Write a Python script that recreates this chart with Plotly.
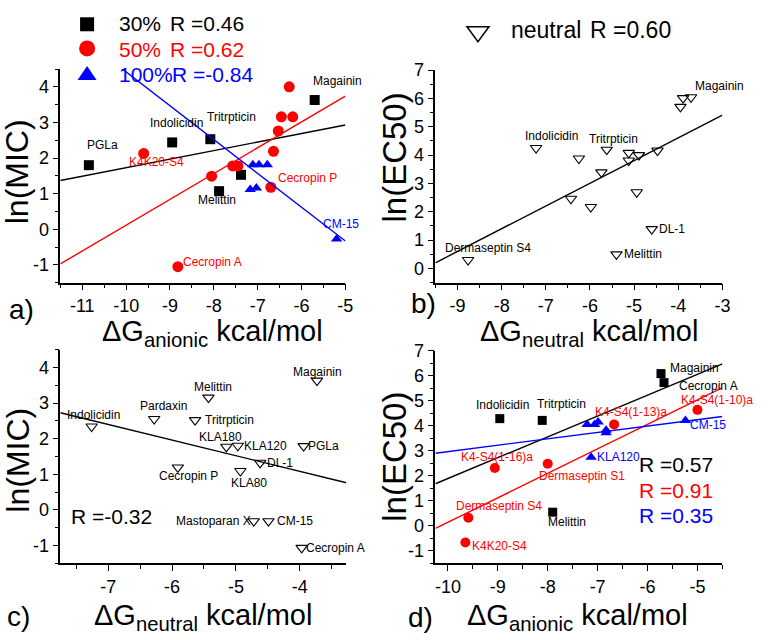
import plotly.graph_objects as go
import numpy as np

W, H = 768, 640

# ---------------- data ----------------
# Panel a: ln(MIC) vs dG anionic
a30_x = [-10.85, -8.95, -8.08, -7.88, -7.38, -5.70]
a30_y = [1.80, 2.44, 2.53, 1.07, 1.53, 3.63]
a30_lab = ["PGLa", "Indolicidin", "Tritrpticin", "Melittin", "", "Magainin"]

a50_x = [-9.60, -8.05, -8.82, -7.57, -7.45, -6.70, -6.64, -6.53, -6.46, -6.20, -6.28]
a50_y = [2.13, 1.49, -1.05, 1.78, 1.78, 1.18, 2.19, 2.76, 3.16, 3.16, 4.00]
a50_lab = ["K4K20-S4", "", "Cecropin A", "", "", "Cecropin P", "", "", "", "", ""]

a100_x = [-7.11, -6.97, -6.78, -7.17, -7.03, -5.20]
a100_y = [1.81, 1.81, 1.81, 1.12, 1.16, -0.27]
a100_lab = ["", "", "", "", "", "CM-15"]

# Panel b: ln(EC50) vs dG neutral
b_x = [-8.76, -7.22, -6.25, -6.43, -5.98, -5.74, -5.62, -5.12, -5.12, -4.89,
       -4.94, -4.47, -4.60, -5.40, -3.95, -3.89, -3.71]
b_y = [0.30, 4.25, 3.88, 2.46, 2.17, 3.39, 4.19, 4.08, 3.81, 4.00,
       2.69, 4.16, 1.39, 0.50, 5.70, 6.01, 6.04]
b_lab = ["Dermaseptin S4", "Indolicidin", "", "", "", "", "Tritrpticin", "", "", "",
         "", "", "DL-1", "Melittin", "", "", "Magainin"]

# Panel c: ln(MIC) vs dG neutral
c_x = [-7.26, -6.28, -5.43, -5.64, -3.73, -5.15, -4.97, -3.94, -4.62, -5.91,
       -4.93, -4.72, -4.49, -3.97]
c_y = [2.34, 2.55, 3.15, 2.52, 3.63, 1.77, 1.80, 1.79, 1.32, 1.19,
       1.09, -0.32, -0.32, -1.07]
c_lab = ["Indolicidin", "Pardaxin", "Melittin", "Tritrpticin", "Magainin", "KLA180",
         "KLA120", "PGLa", "DL-1", "Cecropin P", "KLA80", "Mastoparan X", "CM-15",
         "Cecropin A"]

# Panel d: ln(EC50) vs dG anionic
d30_x = [-8.96, -8.11, -7.90, -5.73, -5.67]
d30_y = [4.28, 4.21, 0.54, 6.08, 5.72]
d30_lab = ["Indolicidin", "Tritrpticin", "Melittin", "Magainin", "Cecropin A"]

d50_x = [-9.65, -9.59, -9.06, -8.00, -6.67, -5.00]
d50_y = [-0.67, 0.32, 2.31, 2.48, 4.05, 4.63]
d50_lab = ["K4K20-S4", "Dermaseptin S4", "K4-S4(1-16)a", "Dermaseptin S1",
           "K4-S4(1-13)a", "K4-S4(1-10)a"]

d100_x = [-7.21, -7.06, -6.99, -6.83, -6.83, -7.13, -5.24]
d100_y = [4.05, 4.05, 4.15, 3.82, 3.72, 2.74, 4.21]
d100_lab = ["", "", "", "", "", "KLA120", "CM-15"]

# Linear fits as drawn (slope, value at x = -5)
fit_a30 = [0.240, 2.93]
fit_a50 = [0.725, 3.74]
fit_a100 = [-0.950, -0.33]
fit_b = [0.802, 3.81]
fit_c = [-0.4385, 1.52]
fit_d30 = [0.833, 6.05]
fit_d50 = [0.979, 5.03]
fit_d100 = [0.2557, 4.24]

# Correlation coefficients
r_a = ["0.46", "0.62", "-0.84"]
r_b = "0.60"
r_c = "-0.32"
r_d = ["0.57", "0.91", "0.35"]

# ---------------- styles ----------------
FONT = "Liberation Sans, Arial, sans-serif"
BLACK, RED, BLUE = "#000000", "#FF0000", "#0000FF"

# label offsets in px (dx right, dy down) relative to the marker
OFF = {
    "a": {"Magainin": (23, -19), "Indolicidin": (4, -19), "Tritrpticin": (21, -22),
          "PGLa": (14, -20), "K4K20-S4": (13, 9), "Melittin": (-2, 9),
          "Cecropin P": (37, -9), "CM-15": (4, -15), "Cecropin A": (35, -5)},
    "b": {"Magainin": (28, -11), "Indolicidin": (15, -12), "Tritrpticin": (7, -11),
          "DL-1": (20, 0), "Melittin": (27, 0), "Dermaseptin S4": (20, -12)},
    "c": {"Indolicidin": (2, -12), "Pardaxin": (9, -13), "Melittin": (5, -11),
          "Tritrpticin": (34, 0), "Magainin": (1, -9), "KLA180": (-6, -10),
          "KLA120": (28, 0), "PGLa": (20, 0), "DL-1": (20, 0), "Cecropin P": (11, 9),
          "KLA80": (9, 12), "Mastoparan X": (-40, 0), "CM-15": (27, 0),
          "Cecropin A": (34, 0)},
    "d": {"Magainin": (33, -6), "Cecropin A": (44, 3), "Indolicidin": (3, -14),
          "Tritrpticin": (19, -16), "Melittin": (14, 10), "K4-S4(1-10)a": (20, -10),
          "K4-S4(1-13)a": (17, -12), "CM-15": (23, 5), "KLA120": (27, 0),
          "K4-S4(1-16)a": (2, -11), "Dermaseptin S1": (34, 12),
          "Dermaseptin S4": (31, -12), "K4K20-S4": (34, 4)},
}

def px(x):
    return x / W

def py(y):
    return 1 - y / H

# panel geometry (pixels): left, right, top, bottom
PANELS = {
    "a": dict(ax="", box=(61, 349, 60, 277), xr=[-11.5, -5], yr=[-1.5, 4.5],
              xt=list(range(-11, -4)), yt=list(range(-1, 5))),
    "b": dict(ax="2", box=(440, 730, 61, 277), xr=[-9.5, -3], yr=[-0.5, 7],
              xt=list(range(-9, -2)), yt=list(range(0, 8))),
    "c": dict(ax="3", box=(61, 350, 345, 562), xr=[-7.75, -3.27], yr=[-1.5, 4.5],
              xt=list(range(-7, -3)), yt=list(range(-1, 5))),
    "d": dict(ax="4", box=(440, 730, 346, 562), xr=[-10.25, -4.5], yr=[-1.5, 7],
              xt=list(range(-10, -4)), yt=list(range(-1, 8))),
}

fig = go.Figure()
annotations = []
shapes = []

def add_series(panel, xs, ys, labs, symbol, size, color, fit, open_marker=False):
    p = PANELS[panel]
    xa, ya = "x" + p["ax"], "y" + p["ax"]
    if fit is not None:
        slope, y5 = fit
        lx = np.array(p["xr"], dtype=float)
        ly = y5 + slope * (lx + 5)
        fig.add_trace(go.Scatter(x=lx, y=ly, mode="lines", xaxis=xa, yaxis=ya,
                                 line=dict(color=color, width=1.4),
                                 showlegend=False, hoverinfo="skip"))
    if open_marker:
        mk = dict(symbol=symbol, size=size, color="rgba(0,0,0,0)",
                  line=dict(color=color, width=1.1))
    else:
        mk = dict(symbol=symbol, size=size, color=color, line=dict(width=0))
    fig.add_trace(go.Scatter(x=xs, y=ys, mode="markers", xaxis=xa, yaxis=ya,
                             marker=mk, showlegend=False, cliponaxis=False))
    for x, y, lab in zip(xs, ys, labs):
        if not lab:
            continue
        dx, dy = OFF[panel].get(lab, (0, -12))
        annotations.append(dict(x=x, y=y, xref=xa, yref=ya, text=lab,
                                showarrow=False, xshift=dx, yshift=-dy,
                                font=dict(family=FONT, size=12, color=color)))

# panel a
add_series("a", a30_x, a30_y, a30_lab, "square", 10, BLACK, fit_a30)
add_series("a", a50_x, a50_y, a50_lab, "circle", 11, RED, fit_a50)
add_series("a", a100_x, a100_y, a100_lab, "triangle-up", 10, BLUE, fit_a100)
# panel b
add_series("b", b_x, b_y, b_lab, "triangle-down", 10, BLACK, fit_b, open_marker=True)
# panel c
add_series("c", c_x, c_y, c_lab, "triangle-down", 10, BLACK, fit_c, open_marker=True)
# panel d
add_series("d", d30_x, d30_y, d30_lab, "square", 9, BLACK, fit_d30)
add_series("d", d50_x, d50_y, d50_lab, "circle", 10, RED, fit_d50)
add_series("d", d100_x, d100_y, d100_lab, "triangle-up", 10, BLUE, fit_d100)

# axes
layout_axes = {}
for key, p in PANELS.items():
    l, r, t, b = p["box"]
    common = dict(showline=True, linecolor="black", linewidth=1.6, mirror=False,
                  ticks="outside", ticklen=6, tickwidth=1.4, tickcolor="black",
                  showgrid=False, zeroline=False,
                  tickfont=dict(family=FONT, size=18, color="black"),
                  minor=dict(ticks="outside", ticklen=3.5, tickwidth=1.2,
                             tickcolor="black", dtick=0.5, showgrid=False))
    xa = dict(common, domain=[px(l), px(r)], range=p["xr"], tickmode="array",
              tickvals=p["xt"], ticktext=[str(v) for v in p["xt"]],
              anchor="y" + p["ax"])
    ya = dict(common, domain=[py(b), py(t)], range=p["yr"], tickmode="array",
              tickvals=p["yt"], ticktext=[str(v) for v in p["yt"]],
              anchor="x" + p["ax"])
    layout_axes["xaxis" + p["ax"]] = xa
    layout_axes["yaxis" + p["ax"]] = ya

def txt(x, y, s, size, color="black", xanchor="center", angle=0):
    annotations.append(dict(x=px(x), y=py(y), xref="paper", yref="paper", text=s,
                            showarrow=False, xanchor=xanchor, yanchor="middle",
                            textangle=angle,
                            font=dict(family=FONT, size=size, color=color)))

# axis titles
txt(215, 328, "ΔG<sub>anionic</sub> kcal/mol", 29)
txt(595, 328, "ΔG<sub>neutral</sub> kcal/mol", 29)
txt(205, 617, "ΔG<sub>neutral</sub> kcal/mol", 29)
txt(584, 617, "ΔG<sub>anionic</sub> kcal/mol", 29)
txt(18, 164, "ln(MIC)", 32, angle=-90)
txt(399, 150, "ln(EC50)", 33, angle=-90)
txt(18, 457, "ln(MIC)", 32, angle=-90)
txt(399, 454, "ln(EC50)", 33, angle=-90)

# panel letters
txt(22, 304, "a)", 28)
txt(428, 298, "b)", 28)
txt(19, 616, "c)", 28)
txt(425, 617, "d)", 28)

# legend panel a
txt(118, 14, "30%", 21, BLACK, "left")
txt(170, 14, "R =" + r_a[0], 21, BLACK, "left")
txt(118, 40, "50%", 21, RED, "left")
txt(170, 40, "R =" + r_a[1], 21, RED, "left")
txt(118, 66, "100%", 21, BLUE, "left")
txt(172, 66, "R =" + r_a[2], 21, BLUE, "left")

def pshape(kind, cx, cy, **kw):
    d = dict(type=kind, xref="paper", yref="paper", xsizemode="pixel",
             ysizemode="pixel", xanchor=px(cx), yanchor=py(cy), layer="above")
    d.update(kw)
    shapes.append(d)

pshape("rect", 88, 14.5, x0=-7, x1=7, y0=-7, y1=7, fillcolor=BLACK, line=dict(width=0))
pshape("circle", 88, 39, x0=-8, x1=8, y0=-8, y1=8, fillcolor=RED, line=dict(width=0))
pshape("path", 88, 64, path="M-9.5,-7 L9.5,-7 L0,7 Z", fillcolor=BLUE, line=dict(width=0))

# legend panel b
pshape("path", 483, 24, path="M-11,7 L11,7 L0,-8 Z", fillcolor="rgba(0,0,0,0)",
       line=dict(color=BLACK, width=1.5))
txt(514, 20, "neutral", 23, BLACK, "left")
txt(594, 20, "R =" + r_b, 23, BLACK, "left")

# R labels c, d
txt(70, 515, "R =" + r_c, 21, BLACK, "left")
txt(644, 462, "R =" + r_d[0], 21, BLACK, "left")
txt(644, 488, "R =" + r_d[1], 21, RED, "left")
txt(644, 514, "R =" + r_d[2], 21, BLUE, "left")

fig.update_layout(width=W, height=H, autosize=False,
                  margin=dict(l=0, r=0, t=0, b=0),
                  paper_bgcolor="white", plot_bgcolor="white",
                  showlegend=False, annotations=annotations, shapes=shapes,
                  hovermode=False,
                  **layout_axes)

fig.write_html("out.html",
               config={"displayModeBar": False, "staticPlot": False},
               post_script="document.body.style.margin='0';"
                           "document.body.style.padding='0';")
